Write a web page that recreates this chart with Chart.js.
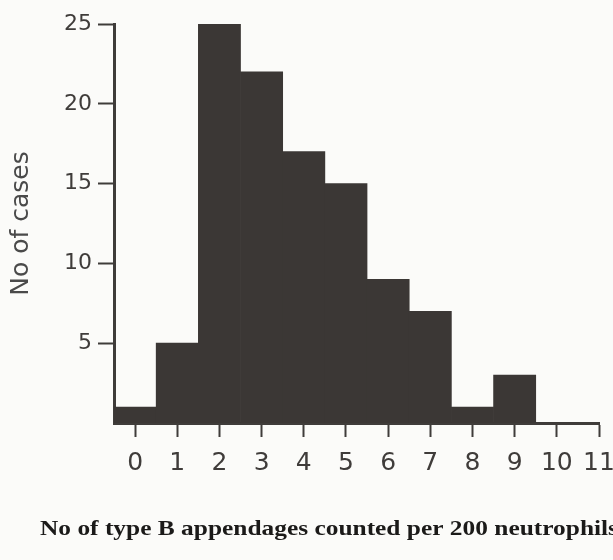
<!DOCTYPE html>
<html>
<head>
<meta charset="utf-8">
<script src="https://cdn.jsdelivr.net/npm/chart.js@4"></script>
<style>
  html, body { margin: 0; padding: 0; background: #fbfbf9; }
  canvas { display: block; }
</style>
</head>
<body>
<canvas id="histogram" width="613" height="560"></canvas>
<script>
// counts of type B appendages (x) and number of cases (y)
const categories = [0, 1, 2, 3, 4, 5, 6, 7, 8, 9, 10];
const cases = [1, 5, 25, 22, 17, 15, 9, 7, 1, 3, 0];
const xTickValues = [0, 1, 2, 3, 4, 5, 6, 7, 8, 9, 10, 11];
const yTickValues = [5, 10, 15, 20, 25];
const yAxisTitle = "No of cases";
const caption = "No of type B appendages counted per 200 neutrophils";

const ink = "#3f3c3a";
const barColor = "#3b3735";

// caption under the chart is drawn by hand, left aligned like the print
const captionPlugin = {
  id: "caption",
  afterDraw(chart) {
    const ctx = chart.ctx;
    ctx.save();
    ctx.font = "bold 22px 'Liberation Serif', 'Times New Roman', serif";
    ctx.fillStyle = "#1b1a19";
    ctx.textBaseline = "alphabetic";
    const w = ctx.measureText(caption).width;
    ctx.translate(40, 535);
    ctx.scale(578 / w, 1);
    ctx.fillText(caption, 0, 0);
    ctx.restore();
  },
};

const ctx = document.getElementById("histogram").getContext("2d");
new Chart(ctx, {
  type: "bar",
  data: {
    datasets: [
      {
        label: yAxisTitle,
        data: categories.map((c, i) => ({ x: c, y: cases[i] })),
        backgroundColor: barColor,
        borderWidth: 0,
        categoryPercentage: 1,
        barPercentage: 1,
      },
    ],
  },
  options: {
    responsive: false,
    animation: false,
    layout: { padding: { top: 24, right: 14, left: 0, bottom: 0 } },
    plugins: {
      legend: { display: false },
      tooltip: { enabled: false },
    },
    scales: {
      x: {
        type: "linear",
        min: -0.5,
        max: 11,
        offset: false,
        afterBuildTicks: (axis) => {
          axis.ticks = xTickValues.map((v) => ({ value: v }));
        },
        afterFit: (axis) => {
          axis.height = 137;
          // let the last label hang over the right edge like the print
          axis.paddingRight = 0;
          axis.paddingLeft = 0;
        },
        ticks: {
          color: ink,
          font: { family: "'Liberation Sans Narrow', 'DejaVu Sans', sans-serif", size: 25 },
          padding: 11,
          maxRotation: 0,
          autoSkip: false,
        },
        grid: {
          offset: false,
          drawOnChartArea: false,
          drawTicks: true,
          tickLength: 14,
          tickWidth: 2,
          color: ink,
        },
        border: { display: true, width: 3, color: ink },
      },
      y: {
        min: 0,
        max: 25,
        afterBuildTicks: (axis) => {
          axis.ticks = yTickValues.map((v) => ({ value: v }));
        },
        afterFit: (axis) => {
          axis.width = 114;
        },
        title: {
          display: true,
          text: yAxisTitle,
          color: "#4a4a4a",
          font: { family: "'DejaVu Sans', sans-serif", size: 25 },
          padding: { top: 6, bottom: 0 },
        },
        ticks: {
          color: ink,
          font: { family: "'DejaVu Sans', sans-serif", size: 22 },
          padding: 6,
        },
        grid: {
          drawOnChartArea: false,
          drawTicks: true,
          tickLength: 16,
          tickWidth: 2,
          color: ink,
        },
        border: { display: true, width: 3, color: ink },
      },
    },
  },
  plugins: [captionPlugin],
});
</script>
</body>
</html>
